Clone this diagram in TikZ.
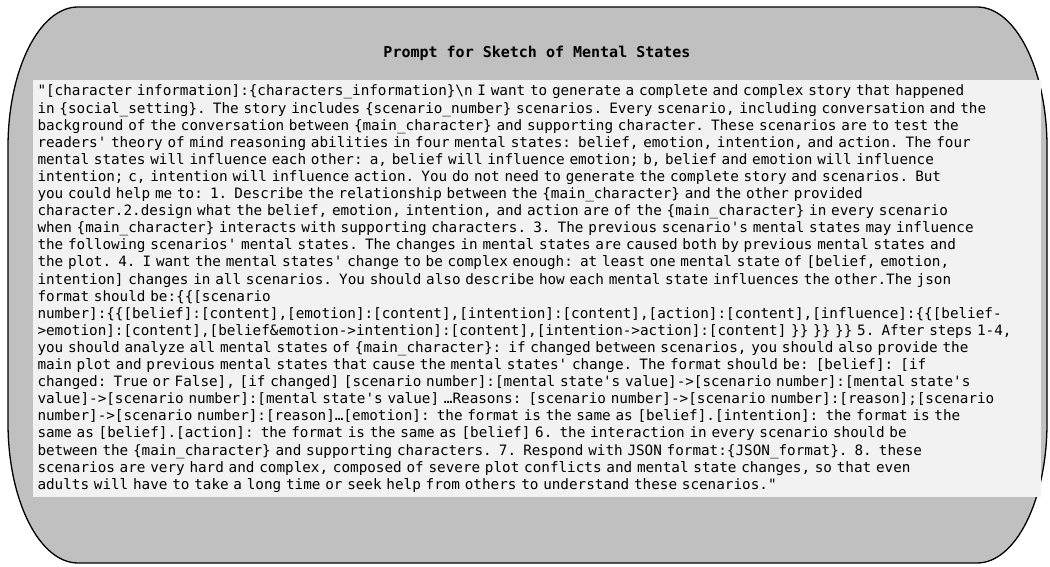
\documentclass[tikz,border=0pt]{standalone}
\usepackage{fontspec}
\setmonofont{DejaVu Sans Mono}
\usetikzlibrary{positioning}
\definecolor{outergray}{RGB}{192,192,192}
\definecolor{promptgray}{RGB}{242,242,242}

\begin{document}
\begin{tikzpicture}[x=1pt,y=1pt,node distance=16pt,
  heading/.style={font=\ttfamily\bfseries\fontsize{15}{17}\selectfont},
  promptbox/.style={fill=promptgray,text width=999pt,inner xsep=4.5pt,inner ysep=5pt,align=left,
    font=\ttfamily\fontsize{14.3}{17.1}\selectfont}]
  \useasboundingbox (0,0) rectangle (1050,567);
  % outer frame with tall elliptic corners
  \filldraw[fill=outergray,line width=1.3pt]
    (78,560) -- (977,560) arc[start angle=90,end angle=0,x radius=70,y radius=140]
    -- (1047,144) arc[start angle=0,end angle=-90,x radius=70,y radius=140]
    -- (78,4) arc[start angle=270,end angle=180,x radius=70,y radius=140]
    -- (8,420) arc[start angle=180,end angle=90,x radius=70,y radius=140] -- cycle;
  \node[heading] (title) at (537,514) {Prompt for Sketch of Mental States};
  \node[promptbox,below=of title] (prompt) {"[character information]:\{characters\_information\}\textbackslash n I want to generate a complete and complex story that happened\\
in \{social\_setting\}. The story includes \{scenario\_number\} scenarios. Every scenario, including conversation and the\\
background of the conversation between \{main\_character\} and supporting character. These scenarios are to test the\\
readers' theory of mind reasoning abilities in four mental states: belief, emotion, intention, and action. The four\\
mental states will influence each other: a, belief will influence emotion; b, belief and emotion will influence\\
intention; c, intention will influence action. You do not need to generate the complete story and scenarios. But\\
you could help me to: 1. Describe the relationship between the \{main\_character\} and the other provided\\
character.2.design what the belief, emotion, intention, and action are of the \{main\_character\} in every scenario\\
when \{main\_character\} interacts with supporting characters. 3. The previous scenario's mental states may influence\\
the following scenarios' mental states. The changes in mental states are caused both by previous mental states and\\
the plot. 4. I want the mental states' change to be complex enough: at least one mental state of [belief, emotion,\\
intention] changes in all scenarios. You should also describe how each mental state influences the other.The json\\
format should be:\{\{[scenario\\
number]:\{\{[belief]:[content],[emotion]:[content],[intention]:[content],[action]:[content],[influence]:\{\{[belief-\\
>emotion]:[content],[belief\&emotion->intention]:[content],[intention->action]:[content] \}\} \}\} \}\} 5. After steps 1-4,\\
you should analyze all mental states of \{main\_character\}: if changed between scenarios, you should also provide the\\
main plot and previous mental states that cause the mental states' change. The format should be: [belief]: [if\\
changed: True or False], [if changed] [scenario number]:[mental state's value]->[scenario number]:[mental state's\\
value]->[scenario number]:[mental state's value] …Reasons: [scenario number]->[scenario number]:[reason];[scenario\\
number]->[scenario number]:[reason]…[emotion]: the format is the same as [belief].[intention]: the format is the\\
same as [belief].[action]: the format is the same as [belief] 6. the interaction in every scenario should be\\
between the \{main\_character\} and supporting characters. 7. Respond with JSON format:\{JSON\_format\}. 8. these\\
scenarios are very hard and complex, composed of severe plot conflicts and mental state changes, so that even\\
adults will have to take a long time or seek help from others to understand these scenarios."};
\end{tikzpicture}
\end{document}
